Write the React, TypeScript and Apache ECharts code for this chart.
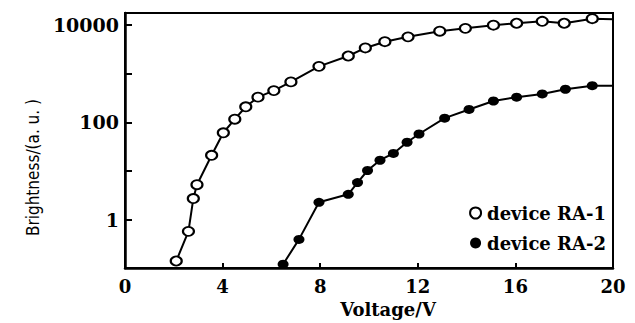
import React, { useEffect, useRef } from "react";
import * as echarts from "echarts";

const seriesNames = ["device RA-1", "device RA-2"];
const xTicks = [0, 4, 8, 12, 16, 20];
const yLabelValues = [1, 100, 10000];

const voltage1 = [2.1, 2.6, 2.8, 2.95, 3.55, 4.03, 4.5, 4.95, 5.45, 6.1, 6.8, 7.95, 9.15, 9.85, 10.65, 11.6, 12.9, 13.95, 15.1, 16.05, 17.1, 18.0, 19.15];
const bright1 = [0.14, 0.57, 2.7, 5.2, 21, 61, 116, 209, 330, 450, 680, 1420, 2320, 3400, 4570, 5750, 7500, 8600, 10000, 10950, 12000, 10950, 13600];
const end1 = [20, 13200];

const voltage2 = [6.48, 7.13, 7.95, 9.15, 9.53, 9.94, 10.45, 11.0, 11.56, 12.05, 13.1, 14.1, 15.1, 16.05, 17.1, 18.05, 19.15];
const bright2 = [0.12, 0.39, 2.26, 3.3, 5.75, 10.2, 16.6, 22.9, 38.9, 57.5, 122, 184, 275, 330, 385, 480, 567];
const end2 = [20, 567];

const SERIF = "'DejaVu Serif', 'Liberation Serif', serif";
const COND = "'DejaVu Sans Condensed', 'Liberation Sans Narrow', 'DejaVu Sans', sans-serif";

export default function App() {
  const ref = useRef<HTMLDivElement>(null);
  useEffect(() => {
    document.body.style.margin = "0";
    const chart = echarts.init(ref.current!, undefined, { renderer: "svg" });
    const build = (xs: number[], ys: number[], end: number[]) => [
      ...xs.map((x, i) => [x, ys[i]]),
      { value: end, symbol: "none" },
    ];
    chart.setOption({
      animation: false,
      backgroundColor: "#fff",
      grid: {
        left: 125,
        right: 22,
        top: 13,
        bottom: 48,
        show: true,
        borderColor: "#000",
        borderWidth: 2,
      },
      legend: {
        orient: "vertical",
        right: 24,
        top: 199,
        itemWidth: 13,
        itemHeight: 11,
        itemGap: 12,
        textStyle: { fontFamily: SERIF, fontWeight: "bold", fontSize: 18, color: "#000" },
        data: [
          { name: seriesNames[0], icon: "emptyCircle", itemStyle: { color: "#000", borderColor: "#000", borderWidth: 2.5 } },
          { name: seriesNames[1], icon: "circle", itemStyle: { color: "#000" } },
        ],
      },
      xAxis: {
        type: "value",
        min: xTicks[0],
        max: xTicks[xTicks.length - 1],
        interval: 4,
        name: "Voltage/V",
        nameLocation: "middle",
        nameGap: 30,
        nameTextStyle: { fontFamily: SERIF, fontWeight: "bold", fontSize: 18, color: "#000", padding: [0, 0, 0, 38] },
        axisLine: { lineStyle: { color: "#000", width: 2.5 } },
        axisTick: { inside: true, length: 5, lineStyle: { color: "#000", width: 2 } },
        axisLabel: {
          fontFamily: SERIF,
          fontWeight: "bold",
          fontSize: 18,
          color: "#000",
          margin: 9,
          formatter: (v: number) => (xTicks.includes(v) ? String(v) : ""),
        },
        splitLine: { show: false },
      },
      yAxis: {
        type: "log",
        logBase: 10,
        min: 0.1,
        max: 17800,
        name: "Brightness/(a. u. )",
        nameLocation: "middle",
        nameGap: 84,
        nameTextStyle: { fontFamily: COND, fontSize: 17, color: "#000", padding: [0, 54, 0, 0] },
        axisLine: { lineStyle: { color: "#000", width: 2.5 } },
        axisTick: { inside: true, length: 7, lineStyle: { color: "#000", width: 2 } },
        axisLabel: {
          fontFamily: SERIF,
          fontWeight: "bold",
          fontSize: 19,
          color: "#000",
          margin: 6,
          formatter: (v: number) => {
            const r = Math.pow(10, Math.round(Math.log10(v)));
            return Math.abs(r - v) / r < 1e-6 && yLabelValues.includes(r) ? String(r) : "";
          },
        },
        splitLine: { show: false },
        minorTick: { show: false },
      },
      series: [
        {
          name: seriesNames[0],
          type: "line",
          data: build(voltage1, bright1, end1),
          symbol: "emptyCircle",
          symbolSize: [11, 9],
          showAllSymbol: true,
          lineStyle: { color: "#000", width: 2 },
          itemStyle: { color: "#000", borderColor: "#000", borderWidth: 2.5 },
        },
        {
          name: seriesNames[1],
          type: "line",
          data: build(voltage2, bright2, end2),
          symbol: "circle",
          symbolSize: [11, 9],
          showAllSymbol: true,
          lineStyle: { color: "#000", width: 2 },
          itemStyle: { color: "#000" },
        },
      ],
    });
    return () => chart.dispose();
  }, []);
  return <div ref={ref} style={{ width: 635, height: 323, position: "fixed", left: 0, top: 0 }} />;
}
